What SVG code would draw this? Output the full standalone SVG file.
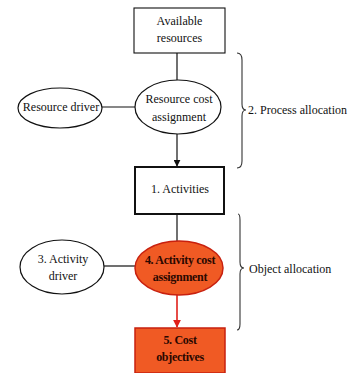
<svg xmlns="http://www.w3.org/2000/svg" width="364" height="373" viewBox="0 0 364 373" font-family="'Liberation Serif', 'Times New Roman', serif" font-size="12">
  <defs>
    <style>
      text { fill: #111; }
      .mid { text-anchor: middle; }
      .bold { font-weight: bold; fill: #2a0800; }
      .box { fill: #fff; stroke: #111; stroke-width: 1.1; }
      .box-thick { fill: #fff; stroke: #111; stroke-width: 2; }
      .oval { fill: #fff; stroke: #111; stroke-width: 1.2; }
      .hot { fill: #f05a24; stroke: #c8200e; stroke-width: 1.5; }
      .line { stroke: #111; stroke-width: 1.2; fill: none; }
      .red-line { stroke: #e0201a; stroke-width: 1.6; fill: none; }
      .brace { stroke: #333; stroke-width: 1.1; fill: none; }
    </style>
    <marker id="arrow-black" viewBox="0 0 10 10" refX="9" refY="5" markerWidth="7" markerHeight="7" markerUnits="userSpaceOnUse" orient="auto">
      <path d="M0,0 L10,5 L0,10 Z" fill="#111"/>
    </marker>
    <marker id="arrow-red" viewBox="0 0 10 10" refX="9" refY="5" markerWidth="8" markerHeight="8" markerUnits="userSpaceOnUse" orient="auto">
      <path d="M0,0 L10,5 L0,10 Z" fill="#e0201a"/>
    </marker>
  </defs>

  <!-- connectors -->
  <g id="connectors">
    <line class="line" x1="177" y1="53" x2="177" y2="80"/>
    <line class="line" x1="102" y1="107" x2="135" y2="107"/>
    <line class="line" x1="177" y1="134" x2="177" y2="166" marker-end="url(#arrow-black)"/>
    <line class="line" x1="177" y1="214" x2="177" y2="241"/>
    <line class="line" x1="104" y1="266" x2="135" y2="266"/>
    <line class="red-line" x1="177" y1="295" x2="177" y2="327" marker-end="url(#arrow-red)"/>
  </g>

  <g id="available-resources">
    <rect class="box" x="134" y="8" width="91" height="45"/>
    <text class="mid" x="179.5" y="25">Available</text>
    <text class="mid" x="179.5" y="42">resources</text>
  </g>

  <g id="resource-driver">
    <ellipse class="oval" cx="60" cy="108" rx="42" ry="20"/>
    <text class="mid" x="61" y="111">Resource driver</text>
  </g>

  <g id="resource-cost-assignment">
    <ellipse class="oval" cx="178" cy="107" rx="43" ry="27"/>
    <text class="mid" x="179" y="103">Resource cost</text>
    <text class="mid" x="179" y="121">assignment</text>
  </g>

  <g id="process-allocation">
    <path class="brace" d="M237,53 Q242,53 242,60 L242,104 Q242,110 246,110 Q242,110 242,116 L242,161 Q242,168 237,168"/>
    <text x="248" y="114">2. Process allocation</text>
  </g>

  <g id="activities">
    <rect class="box-thick" x="135" y="167" width="89" height="47"/>
    <text class="mid" x="180" y="193">1. Activities</text>
  </g>

  <g id="activity-driver">
    <ellipse class="oval" cx="62" cy="267" rx="42" ry="27"/>
    <text class="mid" x="63" y="263">3. Activity</text>
    <text class="mid" x="63" y="280">driver</text>
  </g>

  <g id="activity-cost-assignment">
    <ellipse class="hot" cx="179" cy="268" rx="44" ry="27"/>
    <text class="mid bold" x="180" y="264" letter-spacing="-0.3">4. Activity cost</text>
    <text class="mid bold" x="180" y="281" letter-spacing="-0.3">assignment</text>
  </g>

  <g id="object-allocation">
    <path class="brace" d="M238,214 Q240,214 240,220 L240,262 Q240,268 244,268 Q240,268 240,274 L240,324 Q240,330 237,330"/>
    <text x="249" y="273">Object allocation</text>
  </g>

  <g id="cost-objectives">
    <rect class="hot" x="135" y="328" width="90" height="45"/>
    <text class="mid bold" x="180" y="344" letter-spacing="-0.3">5. Cost</text>
    <text class="mid bold" x="180" y="361" letter-spacing="-0.3">objectives</text>
  </g>
</svg>
